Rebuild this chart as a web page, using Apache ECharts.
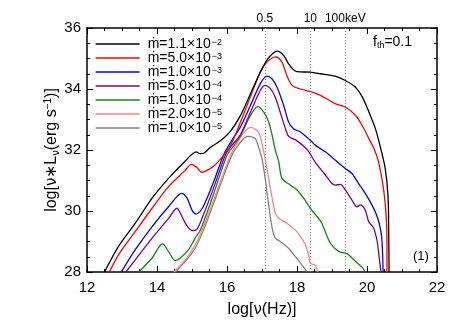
<!DOCTYPE html>
<html><head><meta charset="utf-8">
<script src="https://cdn.jsdelivr.net/npm/echarts@6/dist/echarts.min.js"></script>
<style>html,body{margin:0;padding:0;background:#fff}#c{width:463px;height:327px}</style>
</head><body><div id="c"></div>
<script>
// log(nu) [Hz], log(nu L_nu) [erg/s]
const curve1 = [[12.50,28.0],[12.9,28.84],[13.38,29.6],[13.86,30.42],[14.33,31.07],[14.81,31.64],[15.12,31.94],[15.24,31.88],[15.35,31.9],[15.52,32.08],[15.81,32.3],[16.1,32.62],[16.38,33.12],[16.67,33.84],[16.95,34.55],[17.14,34.95],[17.29,35.15],[17.43,35.24],[17.62,35.1],[17.76,34.82],[17.9,34.63],[18.0,34.57],[18.38,34.55],[18.67,34.5],[19.09,34.42],[19.38,34.28],[19.67,34.06],[19.86,33.75],[20.05,33.26],[20.24,32.7],[20.38,32.1],[20.52,31.4],[20.6,30.5],[20.62,29.4],[20.63,28.0]];
const curve2 = [[12.64,28.0],[12.9,28.56],[13.38,29.33],[13.86,30.09],[14.33,30.8],[14.81,31.34],[14.98,31.53],[15.14,31.43],[15.27,31.27],[15.36,31.29],[15.6,31.45],[15.85,31.75],[16.1,32.15],[16.38,32.9],[16.67,33.75],[16.95,34.55],[17.14,34.88],[17.33,35.04],[17.4,35.05],[17.57,34.88],[17.71,34.44],[17.86,34.12],[18.1,34.0],[18.38,33.92],[18.67,33.79],[19.09,33.52],[19.38,33.41],[19.67,33.14],[19.86,32.81],[20.05,32.38],[20.2,32.05],[20.33,31.61],[20.47,30.74],[20.55,29.8],[20.57,29.0],[20.57,28.0]];
const curve3 = [[12.98,28.0],[13.38,28.73],[13.86,29.49],[14.33,30.14],[14.71,30.58],[14.86,30.42],[15.0,30.03],[15.12,29.9],[15.3,30.1],[15.6,30.9],[15.9,31.83],[16.1,32.25],[16.38,32.75],[16.67,33.46],[16.95,34.17],[17.14,34.42],[17.29,34.33],[17.43,34.06],[17.62,33.46],[17.76,32.92],[17.9,32.7],[18.1,32.59],[18.38,32.32],[18.52,32.16],[18.81,31.94],[19.09,31.67],[19.38,31.39],[19.57,31.23],[19.76,30.9],[19.95,30.58],[20.14,30.2],[20.29,29.82],[20.38,29.44],[20.43,29.0],[20.46,28.0]];
const curve4 = [[13.11,28.0],[13.38,28.4],[13.86,29.11],[14.33,29.76],[14.57,30.09],[14.71,29.82],[14.86,29.51],[15.0,29.36],[15.14,29.4],[15.3,29.8],[15.6,30.7],[15.95,31.83],[16.1,32.1],[16.38,32.5],[16.67,33.24],[16.95,33.95],[17.09,34.12],[17.24,34.01],[17.38,33.73],[17.52,33.24],[17.67,32.7],[17.76,32.45],[18.0,32.3],[18.3,32.0],[18.52,31.6],[18.81,31.18],[19.0,30.9],[19.09,30.85],[19.24,30.87],[19.38,30.69],[19.57,30.36],[19.71,30.14],[19.81,30.2],[19.95,30.03],[20.05,29.65],[20.19,29.44],[20.29,29.0],[20.35,28.46],[20.4,28.0]];
const curve5 = [[13.48,28.0],[13.86,28.46],[14.16,28.92],[14.33,28.67],[14.52,28.38],[14.67,28.46],[14.9,28.73],[15.09,29.11],[15.24,29.38],[15.6,30.5],[16.0,31.83],[16.2,32.15],[16.38,32.45],[16.67,33.13],[16.88,33.42],[17.05,33.24],[17.19,32.92],[17.29,32.48],[17.38,32.0],[17.48,31.61],[17.57,31.07],[17.81,30.85],[18.0,30.69],[18.19,30.42],[18.38,30.09],[18.57,29.82],[18.71,29.6],[18.95,28.95],[19.19,28.67],[19.38,28.62],[19.48,28.56],[19.67,28.35],[19.86,28.15],[19.95,28.0]];
const curve6 = [[14.48,28.0],[14.81,28.4],[15.09,28.89],[15.29,29.38],[15.6,30.3],[16.1,31.83],[16.38,32.4],[16.52,32.62],[16.68,32.74],[16.9,32.59],[17.0,32.2],[17.09,31.72],[17.19,31.07],[17.29,30.42],[17.38,29.93],[17.48,29.76],[17.71,29.6],[17.95,29.38],[18.1,29.16],[18.24,28.89],[18.33,28.56],[18.38,28.29],[18.52,28.22],[18.59,28.0]];
const curve7 = [[14.52,28.0],[14.81,28.35],[15.09,28.78],[15.33,29.38],[15.6,30.2],[16.14,31.83],[16.43,32.32],[16.6,32.45],[16.81,32.37],[16.9,32.1],[17.0,31.72],[17.09,31.07],[17.19,30.2],[17.29,29.44],[17.38,29.11],[17.52,29.0],[17.76,28.78],[17.95,28.51],[18.1,28.29],[18.24,28.08],[18.29,28.0]];

const legendMant = ['1.1','5.0','1.0','5.0','1.0','2.0','1.0'];
const legendExp = ['−2','−3','−3','−4','−4','−5','−5'];
const curveColors = ['#000000','#ff0000','#0000ff','#800080','#118811','#ff8080','#808080'];
const keVPos = [17.08, 18.38, 19.38];
const keVLabels = ['0.5', '10', '100keV'];
const xTicks = [12, 14, 16, 18, 20, 22];
const yTicks = [28, 30, 32, 34, 36];

const curves = [curve1, curve2, curve3, curve4, curve5, curve6, curve7];
const names = legendMant.map((m, i) => 'm' + i);
const FONT = 'Liberation Sans';
const GREEK = 'DejaVu Sans';

const axisCommon = {
  type: 'value',
  axisLine: {show: true, lineStyle: {color: '#000', width: 1.5}},
  axisTick: {show: true, inside: true, length: 6, lineStyle: {color: '#000', width: 1}},
  minorTick: {show: true, splitNumber: 4, length: 3, lineStyle: {color: '#000', width: 1}},
  splitLine: {show: false},
  minorSplitLine: {show: false}
};

const series = curves.map((c, i) => ({
  name: names[i],
  type: 'line',
  data: c,
  symbol: 'none',
  smooth: 0.3,
  clip: true,
  lineStyle: {color: curveColors[i], width: 1.3},
  itemStyle: {color: curveColors[i]},
  z: 10 - i
}));

series.push({
  type: 'line',
  data: [],
  silent: true,
  markLine: {
    silent: true,
    symbol: ['none', 'none'],
    lineStyle: {type: [1, 2], color: '#888', width: 1},
    label: {show: true, position: 'end', formatter: '{b}', color: '#000', fontSize: 12, fontFamily: FONT, distance: 3},
    data: keVPos.map((v, i) => ({xAxis: v, name: keVLabels[i]}))
  }
});

const chart = echarts.init(document.getElementById('c'), null, {renderer: 'canvas'});
chart.setOption({
  animation: false,
  backgroundColor: '#fff',
  grid: {left: 87, right: 26, top: 28, bottom: 55},
  xAxis: [
    Object.assign({}, axisCommon, {
      min: xTicks[0], max: xTicks[xTicks.length - 1], interval: 2, position: 'bottom',
      axisLabel: {color: '#000', fontSize: 15, fontFamily: FONT, margin: 8},
      name: '{a|log[}{g|ν}{a|(Hz)]}', nameLocation: 'middle', nameGap: 30, nameMoveOverlap: false,
      nameTextStyle: {
        color: '#000', fontSize: 16, fontFamily: FONT,
        rich: {
          a: {fontSize: 16, fontFamily: FONT, color: '#000'},
          g: {fontSize: 15, fontFamily: GREEK, color: '#000'}
        }
      }
    }),
    Object.assign({}, axisCommon, {
      min: xTicks[0], max: xTicks[xTicks.length - 1], interval: 2, position: 'top',
      axisLabel: {show: false}
    })
  ],
  yAxis: [
    Object.assign({}, axisCommon, {
      min: yTicks[0], max: yTicks[yTicks.length - 1], interval: 2, position: 'left',
      axisLabel: {color: '#000', fontSize: 15, fontFamily: FONT, margin: 6},
      name: '{a|log[}{g|ν}{a|∗L}{s|ν}{a|(erg s}{p|−1}{a|)]}', nameLocation: 'middle', nameGap: 26, nameRotate: 90, nameMoveOverlap: false,
      nameTextStyle: {
        color: '#000', fontSize: 16, fontFamily: FONT,
        rich: {
          a: {fontSize: 16, fontFamily: FONT, color: '#000', lineHeight: 18},
          g: {fontSize: 15, fontFamily: GREEK, color: '#000', lineHeight: 18},
          s: {fontSize: 10, fontFamily: GREEK, color: '#000', lineHeight: 10, verticalAlign: 'bottom'},
          p: {fontSize: 10, fontFamily: FONT, color: '#000', lineHeight: 10, verticalAlign: 'top'}
        }
      }
    }),
    Object.assign({}, axisCommon, {
      min: yTicks[0], max: yTicks[yTicks.length - 1], interval: 2, position: 'right',
      axisLabel: {show: false}
    })
  ],
  legend: {
    data: names,
    orient: 'vertical',
    left: 95, top: 37, padding: 0,
    itemWidth: 44, itemHeight: 12, itemGap: 0,
    selectedMode: false,
    itemStyle: {opacity: 0},
    lineStyle: {width: 1.3},
    formatter: function (name) {
      const i = names.indexOf(name);
      return '{b|ṁ=' + legendMant[i] + '×10}{s|' + legendExp[i] + '}';
    },
    textStyle: {
      color: '#000', fontFamily: FONT, fontSize: 14,
      rich: {
        b: {fontSize: 14, fontFamily: FONT, color: '#000', lineHeight: 12, padding: [0, 0, 0, 3]},
        s: {fontSize: 9, fontFamily: FONT, color: '#000', lineHeight: 9, verticalAlign: 'top', padding: [0, 0, 0, 1]}
      }
    }
  },
  graphic: [
    {type: 'text', left: 373, top: 35, style: {
      text: '{f|f}{t|th}{f|=0.1}',
      rich: {
        f: {fontSize: 14, fontFamily: FONT, fill: '#000', lineHeight: 16},
        t: {fontSize: 9, fontFamily: FONT, fill: '#000', lineHeight: 9, verticalAlign: 'bottom'}
      }
    }},
    {type: 'text', left: 413, top: 250, style: {text: '(1)', fontSize: 13, fontFamily: FONT, fill: '#000'}}
  ],
  series: series
});
</script>
</body></html>
